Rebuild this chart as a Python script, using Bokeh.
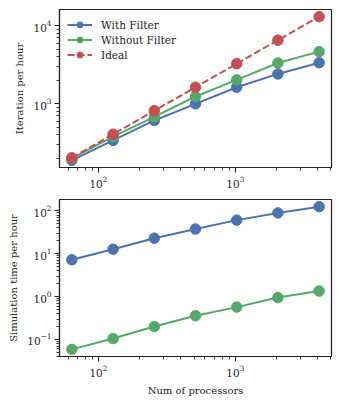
import numpy as np
from bokeh.plotting import figure
from bokeh.layouts import column
from bokeh.models import Legend, LegendItem, Range1d, FixedTicker, LogTickFormatter
from bokeh.embed import file_html
from bokeh.resources import INLINE

# ---- data ----
procs = [64, 128, 256, 512, 1024, 2048, 4096]
iter_with_filter = [189, 340, 612, 1000, 1630, 2415, 3365]
iter_without_filter = [200, 379, 682, 1240, 2027, 3335, 4656]
iter_ideal = [204, 408, 816, 1632, 3264, 6528, 13056]
sim_with_filter = [7.26, 12.8, 23.1, 37.8, 61.0, 90.0, 126.0]
sim_without_filter = [0.0587, 0.105, 0.20, 0.358, 0.569, 0.95, 1.35]

series_labels = ["With Filter", "Without Filter", "Ideal"]
colors = ["#4C72B0", "#55A868", "#C44E52"]

# tick positions (decades)
x_decades = [1, 2, 3, 4]
top_y_decades = [2, 3, 4, 5]
bottom_y_decades = [-2, -1, 0, 1, 2, 3]

FONT = "DejaVu Serif"


def log_ticker(decades):
    majors = [10.0 ** d for d in decades]
    minors = [m * 10.0 ** d for d in decades for m in range(2, 10)]
    return FixedTicker(ticks=majors, minor_ticks=minors)


def log_range(vals, margin=0.05):
    lv = np.log10(np.asarray(vals, dtype=float))
    lo, hi = lv.min(), lv.max()
    span = hi - lo
    return Range1d(10 ** (lo - margin * span), 10 ** (hi + margin * span))


def style(p, xdec, ydec):
    p.outline_line_color = "#222222"
    p.outline_line_width = 1.2
    p.grid.visible = False
    p.background_fill_color = "white"
    p.border_fill_color = "white"
    p.xaxis[0].ticker = log_ticker(xdec)
    p.yaxis[0].ticker = log_ticker(ydec)
    for ax in (p.xaxis[0], p.yaxis[0]):
        ax.formatter = LogTickFormatter()
        ax.axis_line_color = "#222222"
        ax.axis_line_width = 1.2
        ax.major_tick_in = 0
        ax.major_tick_out = 5
        ax.minor_tick_in = 0
        ax.minor_tick_out = 3
        ax.major_tick_line_color = "#222222"
        ax.minor_tick_line_color = "#222222"
        ax.major_tick_line_width = 1.1
        ax.minor_tick_line_width = 0.9
        ax.major_label_text_font = FONT
        ax.major_label_text_font_size = "10.5px"
        ax.major_label_text_color = "#222222"
        ax.major_label_standoff = 3
        ax.axis_label_text_font = FONT
        ax.axis_label_text_font_size = "10px"
        ax.axis_label_text_font_style = "normal"
        ax.axis_label_text_color = "#222222"
        ax.axis_label_standoff = 5


x_rng = log_range(procs)

# ---- top figure ----
p1 = figure(width=341, height=192, x_axis_type="log", y_axis_type="log",
            x_range=x_rng, y_range=log_range(iter_with_filter + iter_ideal),
            output_backend="svg", toolbar_location=None,
            min_border_left=59, min_border_right=10,
            min_border_top=9, min_border_bottom=25)
style(p1, x_decades, top_y_decades)
p1.yaxis.axis_label = "Iteration per hour"

items = []
for lab, ys, col, dash in zip(series_labels,
                              [iter_with_filter, iter_without_filter, iter_ideal],
                              colors, ["solid", "solid", "7 3"]):
    r1 = p1.line(procs, ys, line_color=col, line_width=2, line_dash=dash)
    r2 = p1.scatter(procs, ys, size=10.5, fill_color=col, line_color=col)
    items.append(LegendItem(label=lab, renderers=[r1, r2]))

leg = Legend(items=items, location="top_left")
leg.border_line_color = None
leg.background_fill_alpha = 0
leg.margin = 8
leg.padding = 0
leg.spacing = 0
leg.glyph_width = 25
leg.glyph_height = 15
leg.label_height = 15
leg.label_standoff = 9
leg.label_text_font = FONT
leg.label_text_font_size = "10.5px"
leg.label_text_color = "#222222"
p1.add_layout(leg)

# ---- bottom figure ----
p2 = figure(width=341, height=208, x_axis_type="log", y_axis_type="log",
            x_range=x_rng, y_range=log_range(sim_with_filter + sim_without_filter),
            output_backend="svg", toolbar_location=None,
            min_border_left=59, min_border_right=10,
            min_border_top=7, min_border_bottom=44)
style(p2, x_decades, bottom_y_decades)
p2.yaxis.axis_label = "Simulation time per hour"
p2.xaxis.axis_label = "Num of processors"

for ys, col in zip([sim_with_filter, sim_without_filter], colors[:2]):
    p2.line(procs, ys, line_color=col, line_width=2)
    p2.scatter(procs, ys, size=10.5, fill_color=col, line_color=col)

layout = column(p1, p2, spacing=0)
open("out.html", "w").write(file_html(layout, INLINE))
